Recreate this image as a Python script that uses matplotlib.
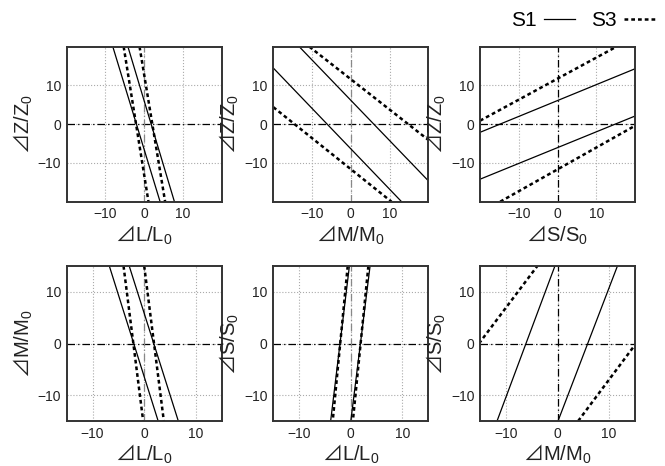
import matplotlib
matplotlib.use("Agg")
import matplotlib.pyplot as plt
from matplotlib.lines import Line2D

plt.rcParams['font.family'] = ['Liberation Sans', 'DejaVu Sans']
plt.rcParams['mathtext.fontset'] = 'custom'
plt.rcParams['mathtext.rm'] = 'Noto Sans CJK JP'
plt.rcParams['mathtext.sf'] = 'Liberation Sans'

# boundary lines, each one as ((x0, x1), (y0, y1))
zl_s1 = [((-8.1, 4.1), (20, -20)), ((-4.2, 7.8), (20, -20))]
zl_s3 = [((-5.3, 1.1), (20, -20)), ((-1.2, 5.4), (20, -20))]

zm_s1 = [((-13.3, 20), (20, -14.6)), ((-20, 13.1), (14.5, -20))]
zm_s3 = [((-10.7, 20), (20, -4.05)), ((-20, 10.5), (4.4, -20))]

zs_s1 = [((-20, 20), (-2.1, 14.3)), ((-20, 20), (-14.2, 2.1))]
zs_s3 = [((-20, 15.2), (0.9, 20)), ((-14.8, 20), (-20, -0.4))]

ml_s1 = [((-6.75, 2.7), (15, -15)), ((-2.9, 6.6), (15, -15))]
ml_s3 = [((-4.0, -0.2), (15, -15)), ((0.0, 3.8), (15, -15))]

sl_s1 = [((-0.27, -3.9), (15, -15)), ((3.73, 0.0), (15, -15))]
sl_s3 = [((-0.6, -3.5), (15, -15)), ((3.4, 0.4), (15, -15))]

sm_s1 = [((-11.7, -0.5), (-15, 15)), ((0.1, 11.6), (-15, 15))]
sm_s3 = [((-15.2, -3.9), (0, 15)), ((4.0, 15.2), (-15, 0))]

ticks = [-10, 0, 10]
tick_labels = ["\u221210", "0", "10"]

L_LAB = r"$\mathrm{⊿}\mathsf{L/L_0}$"
M_LAB = r"$\mathrm{⊿}\mathsf{M/M_0}$"
S_LAB = r"$\mathrm{⊿}\mathsf{S/S_0}$"
Z_LAB = r"$\mathrm{⊿}\mathsf{Z/Z_0}$"

panels = [
    (zl_s1, zl_s3, L_LAB, Z_LAB, 20, "#888888"),
    (zm_s1, zm_s3, M_LAB, Z_LAB, 20, "#888888"),
    (zs_s1, zs_s3, S_LAB, Z_LAB, 20, "black"),
    (ml_s1, ml_s3, L_LAB, M_LAB, 15, "#888888"),
    (sl_s1, sl_s3, L_LAB, S_LAB, 15, "#888888"),
    (sm_s1, sm_s3, M_LAB, S_LAB, 15, "black"),
]

W, H = 665, 466
col_left = [66.7, 273.3, 480.0]
row_top = [46.7, 266.0]
size = 155.0

S1_STYLE = dict(color="black", lw=0.9, ls="-")
S3_STYLE = dict(color="black", lw=1.8, ls=(0, (1.5, 1.2)))

fig = plt.figure(figsize=(W / 100, H / 100), dpi=100)

for i, (s1, s3, xlabel, ylabel, lim, vcolor) in enumerate(panels):
    r, c = divmod(i, 3)
    ax = fig.add_axes([col_left[c] / W, 1 - (row_top[r] + size) / H,
                       size / W, size / H])
    ax.set_xlim(-lim, lim)
    ax.set_ylim(-lim, lim)
    ax.set_xticks(ticks)
    ax.set_yticks(ticks)
    ax.set_xticklabels(tick_labels)
    ax.set_yticklabels(tick_labels)
    ax.grid(True, ls=":", color="#aaaaaa", lw=0.8)
    ax.set_axisbelow(True)
    ax.tick_params(length=0, pad=4, labelsize=10, colors="#222222")
    for sp in ax.spines.values():
        sp.set_linewidth(1.4)
        sp.set_color("#333333")

    ax.axhline(0, color="black", lw=0.9, ls="-.", dashes=(6, 2.5, 1, 2.5))
    ax.axvline(0, color=vcolor, lw=0.9, ls="-.", dashes=(6, 2.5, 1, 2.5))

    for xs, ys in s1:
        ax.plot(xs, ys, **S1_STYLE)
    for xs, ys in s3:
        ax.plot(xs, ys, **S3_STYLE)

    ax.set_xlabel(xlabel, fontsize=14.5, labelpad=1.5, color="#222222")
    ax.set_ylabel(ylabel, fontsize=14.5, labelpad=2, color="#222222")

handles = [Line2D([], [], **S1_STYLE), Line2D([], [], **S3_STYLE)]
fig.legend(handles, ["S1", "S3"], ncol=2, markerfirst=False, frameon=False,
           loc="center right", bbox_to_anchor=(1.0, 0.955), fontsize=15,
           handlelength=1.5, handletextpad=0.35, columnspacing=0.8,
           borderaxespad=0.05)

fig.savefig("out.png", dpi=100)
